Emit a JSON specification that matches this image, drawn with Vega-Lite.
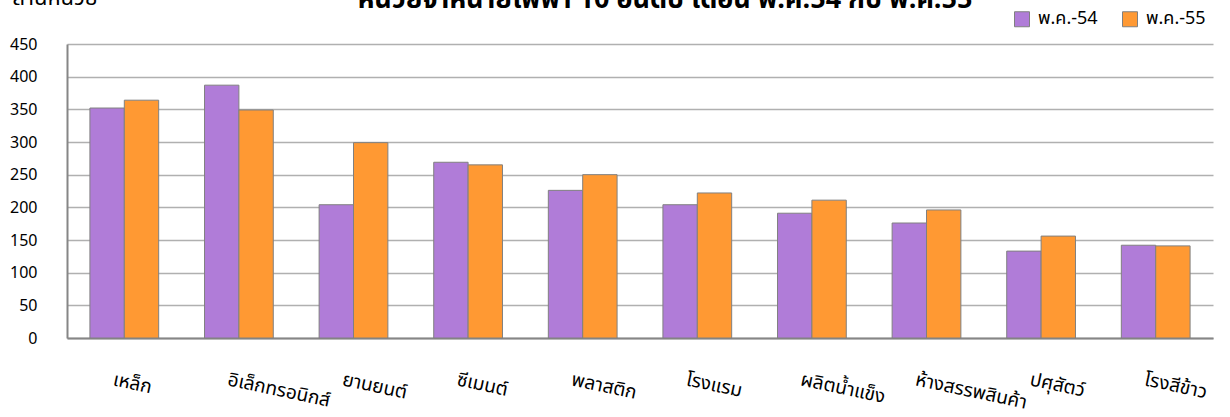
{
  "$schema": "https://vega.github.io/schema/vega-lite/v6.json",
  "width": 1146,
  "height": 294,
  "autosize": {"type": "none"},
  "padding": {"left": 67, "top": 44, "right": 17, "bottom": 79},
  "background": "white",
  "title": {
    "text": "หน่วยจำหน่ายไฟฟ้า 10 อันดับ เดือน พ.ค.54 กับ พ.ค.55",
    "anchor": "middle",
    "dx": 25,
    "offset": -28,
    "fontSize": 27,
    "fontWeight": "bold",
    "font": "Tahoma, Noto Sans Thai, Loma, sans-serif",
    "color": "black"
  },
  "config": {
    "view": {"stroke": null},
    "font": "Tahoma, Noto Sans Thai, Loma, sans-serif"
  },
  "data": {
    "values": [
      {"cat": "เหล็ก", "year": "พ.ค.-54", "value": 352},
      {"cat": "เหล็ก", "year": "พ.ค.-55", "value": 364},
      {"cat": "อิเล็กทรอนิกส์", "year": "พ.ค.-54", "value": 387},
      {"cat": "อิเล็กทรอนิกส์", "year": "พ.ค.-55", "value": 349},
      {"cat": "ยานยนต์", "year": "พ.ค.-54", "value": 204},
      {"cat": "ยานยนต์", "year": "พ.ค.-55", "value": 299},
      {"cat": "ซีเมนต์", "year": "พ.ค.-54", "value": 269},
      {"cat": "ซีเมนต์", "year": "พ.ค.-55", "value": 265},
      {"cat": "พลาสติก", "year": "พ.ค.-54", "value": 226},
      {"cat": "พลาสติก", "year": "พ.ค.-55", "value": 250},
      {"cat": "โรงแรม", "year": "พ.ค.-54", "value": 204},
      {"cat": "โรงแรม", "year": "พ.ค.-55", "value": 222},
      {"cat": "ผลิตน้ำแข็ง", "year": "พ.ค.-54", "value": 191},
      {"cat": "ผลิตน้ำแข็ง", "year": "พ.ค.-55", "value": 211},
      {"cat": "ห้างสรรพสินค้า", "year": "พ.ค.-54", "value": 176},
      {"cat": "ห้างสรรพสินค้า", "year": "พ.ค.-55", "value": 196},
      {"cat": "ปศุสัตว์", "year": "พ.ค.-54", "value": 133},
      {"cat": "ปศุสัตว์", "year": "พ.ค.-55", "value": 156},
      {"cat": "โรงสีข้าว", "year": "พ.ค.-54", "value": 142},
      {"cat": "โรงสีข้าว", "year": "พ.ค.-55", "value": 141}
    ]
  },
  "mark": {"type": "bar", "stroke": "#808080", "strokeWidth": 1},
  "encoding": {
    "x": {
      "field": "cat",
      "type": "nominal",
      "sort": null,
      "scale": {"paddingInner": 0.4, "paddingOuter": 0.2},
      "axis": {
        "title": null,
        "labelAngle": 12,
        "labelAlign": "left",
        "labelBaseline": "top",
        "labelPadding": 32,
        "labelFontSize": 19,
        "labelColor": "black",
        "labelOffset": -9,
        "ticks": false,
        "domainColor": "#868686",
        "domainWidth": 2,
        "grid": false
      }
    },
    "xOffset": {"field": "year", "type": "nominal"},
    "y": {
      "field": "value",
      "type": "quantitative",
      "scale": {"domain": [0, 450], "nice": false},
      "axis": {
        "values": [0, 50, 100, 150, 200, 250, 300, 350, 400, 450],
        "title": "ล้านหน่วย",
        "titleAngle": 0,
        "titleX": -55,
        "titleY": -40,
        "titleAlign": "left",
        "titleBaseline": "alphabetic",
        "titleFontSize": 22,
        "titleFontWeight": "normal",
        "titleColor": "black",
        "labelFontSize": 16,
        "labelColor": "black",
        "labelPadding": 30,
        "ticks": false,
        "domainColor": "#868686",
        "domainWidth": 2,
        "gridColor": "#b0b0b0",
        "gridWidth": 1.5
      }
    },
    "color": {
      "field": "year",
      "type": "nominal",
      "scale": {"domain": ["พ.ค.-54", "พ.ค.-55"], "range": ["#b07cd8", "#ff9933"]},
      "legend": {
        "title": null,
        "orient": "none",
        "direction": "horizontal",
        "legendX": 946,
        "legendY": -34,
        "symbolType": "square",
        "symbolSize": 225,
        "symbolStrokeColor": "#808080",
        "symbolStrokeWidth": 1,
        "labelFontSize": 18,
        "labelOffset": 7,
        "labelColor": "black",
        "columnPadding": 22
      }
    }
  }
}
